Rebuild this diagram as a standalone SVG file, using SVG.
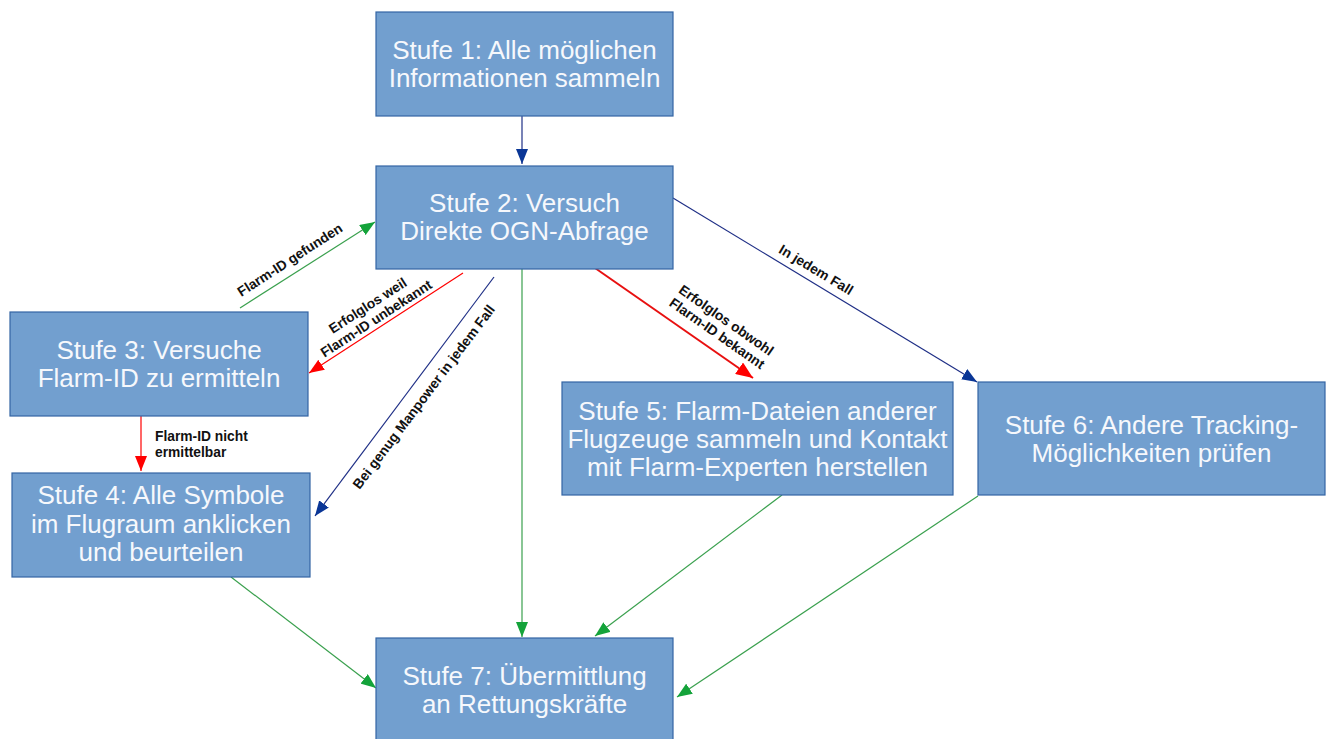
<svg xmlns="http://www.w3.org/2000/svg" width="1327" height="739" viewBox="0 0 1327 739">
<style>
.box{fill:#729fcf;stroke:#3465a4;stroke-width:1.2}
.bt{font-family:"Liberation Sans",Arial,sans-serif;font-size:26px;fill:#f6f8fc;text-anchor:middle}
.lb{font-family:"Liberation Sans",Arial,sans-serif;font-size:13.8px;font-weight:bold;fill:#111111}
.lbm{text-anchor:middle}
.g{stroke:#3aa04e;stroke-width:1.2;fill:none}
.r{stroke:#ff0000;stroke-width:1.2;fill:none}
.r2{stroke:#e81010;stroke-width:2;fill:none}
.b{stroke:#1f2f86;stroke-width:1.2;fill:none}
</style>
<defs>
<marker id="ag" markerUnits="userSpaceOnUse" markerWidth="16" markerHeight="12" refX="15" refY="6" orient="auto"><path d="M0,0 L15,6 L0,12 z" fill="#14a33a"/></marker>
<marker id="ar" markerUnits="userSpaceOnUse" markerWidth="16" markerHeight="12" refX="15" refY="6" orient="auto"><path d="M0,0 L15,6 L0,12 z" fill="#ff0000"/></marker>
<marker id="ar2" markerUnits="userSpaceOnUse" markerWidth="18" markerHeight="14" refX="17" refY="7" orient="auto"><path d="M0,0 L17,7 L0,14 z" fill="#ff0000"/></marker>
<marker id="ab" markerUnits="userSpaceOnUse" markerWidth="16" markerHeight="12" refX="15" refY="6" orient="auto"><path d="M0,0 L15,6 L0,12 z" fill="#0a3696"/></marker>
</defs>
<rect width="1327" height="739" fill="#ffffff"/>
<g id="connectors">
<line class="b" x1="522" y1="116" x2="522" y2="164" marker-end="url(#ab)"/>
<line class="g" x1="240" y1="308" x2="375" y2="222" marker-end="url(#ag)"/>
<line class="r" x1="463" y1="273" x2="309" y2="373" marker-end="url(#ar)"/>
<line class="b" x1="494" y1="277" x2="315" y2="516" marker-end="url(#ab)"/>
<line class="g" x1="522" y1="269" x2="522" y2="637" marker-end="url(#ag)"/>
<line class="r2" x1="595" y1="268" x2="753" y2="378" marker-end="url(#ar2)"/>
<line class="b" x1="673" y1="198" x2="977" y2="382" marker-end="url(#ab)"/>
<line class="r" x1="141" y1="416" x2="141" y2="471" marker-end="url(#ar)"/>
<line class="g" x1="231" y1="577" x2="376" y2="688" marker-end="url(#ag)"/>
<line class="g" x1="782" y1="495" x2="595" y2="636" marker-end="url(#ag)"/>
<line class="g" x1="978" y1="496" x2="677" y2="697" marker-end="url(#ag)"/>
<text class="lb lbm" transform="translate(290,260) rotate(-33)" y="4.5">Flarm-ID gefunden</text>
<g transform="translate(372,312) rotate(-33)">
<text class="lb lbm" y="-3">Erfolglos weil</text>
<text class="lb lbm" y="12.5">Flarm-ID unbekannt</text>
</g>
<text class="lb lbm" transform="translate(424,397) rotate(-53)" y="4.5">Bei genug Manpower in jedem Fall</text>
<g transform="translate(721.5,327) rotate(35)">
<text class="lb lbm" y="-3.5">Erfolglos obwohl</text>
<text class="lb lbm" y="12.5">Flarm-ID bekannt</text>
</g>
<text class="lb lbm" transform="translate(816,270) rotate(31)" y="4.5">In jedem Fall</text>
<text class="lb" x="155" y="441">Flarm-ID nicht</text>
<text class="lb" x="155" y="457">ermittelbar</text>
</g>
<g id="stufe1">
<rect class="box" x="376" y="12" width="297" height="104"/>
<text class="bt" x="524.5" y="59">Stufe 1: Alle möglichen</text>
<text class="bt" x="524.5" y="87">Informationen sammeln</text>
</g>
<g id="stufe2">
<rect class="box" x="376" y="166" width="297" height="103"/>
<text class="bt" x="524.5" y="212">Stufe 2: Versuch</text>
<text class="bt" x="524.5" y="240">Direkte OGN-Abfrage</text>
</g>
<g id="stufe3">
<rect class="box" x="10" y="312" width="298" height="104"/>
<text class="bt" x="159" y="359">Stufe 3: Versuche</text>
<text class="bt" x="159" y="387">Flarm-ID zu ermitteln</text>
</g>
<g id="stufe4">
<rect class="box" x="12" y="473" width="298" height="104"/>
<text class="bt" x="161" y="504">Stufe 4: Alle Symbole</text>
<text class="bt" x="161" y="532.5">im Flugraum anklicken</text>
<text class="bt" x="161" y="561">und beurteilen</text>
</g>
<g id="stufe5">
<rect class="box" x="562" y="382" width="391" height="113"/>
<text class="bt" x="757.5" y="420">Stufe 5: Flarm-Dateien anderer</text>
<text class="bt" x="757.5" y="448">Flugzeuge sammeln und Kontakt</text>
<text class="bt" x="757.5" y="476">mit Flarm-Experten herstellen</text>
</g>
<g id="stufe6">
<rect class="box" x="978" y="382" width="347" height="113"/>
<text class="bt" x="1151.5" y="434">Stufe 6: Andere Tracking-</text>
<text class="bt" x="1151.5" y="462">Möglichkeiten prüfen</text>
</g>
<g id="stufe7">
<rect class="box" x="376" y="638" width="297" height="104"/>
<text class="bt" x="524.5" y="685">Stufe 7: Übermittlung</text>
<text class="bt" x="524.5" y="713">an Rettungskräfte</text>
</g>
</svg>
